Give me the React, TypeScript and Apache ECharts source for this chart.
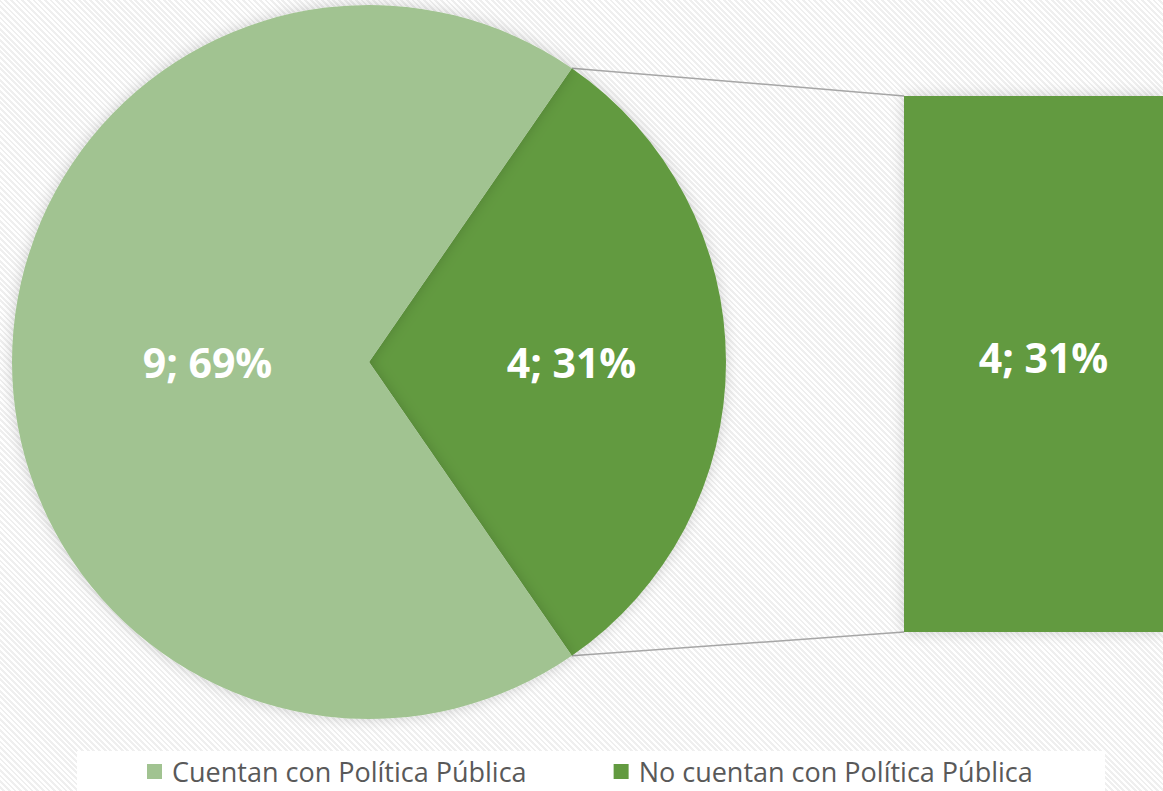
import React, { useEffect, useRef } from "react";
import * as echarts from "echarts";

const categories = ["Cuentan con Política Pública", "No cuentan con Política Pública"];
const values = [9, 4];
const colors = ["#A1C391", "#629A40"];
const barCategories = ["No cuentan con Política Pública"];
const barValues = [4];

export default function App() {
  const ref = useRef<HTMLDivElement>(null);
  useEffect(() => {
    document.body.style.margin = "0";
    const chart = echarts.init(ref.current!, null, { renderer: "svg" });
    const total = values.reduce((a, b) => a + b, 0);
    const cx = 369, cy = 362, r = 357;
    const half = (values[1] / total) * 180;
    const a = (half * Math.PI) / 180;
    const px = cx + r * Math.cos(a);
    const pyTop = cy - r * Math.sin(a);
    const pyBot = cy + r * Math.sin(a);
    const barLeft = 904, barTop = 96, barH = 536;
    const fmt = (p: any) => `${p.value}; ${Math.round((p.value / total) * 100)}%`;
    const labelStyle = {
      color: "#ffffff",
      fontSize: 41,
      fontWeight: "bold" as const,
      fontFamily: "Open Sans",
    };
    chart.setOption({
      animation: false,
      graphic: [
        {
          type: "rect",
          z: -1,
          shape: { x: 77, y: 751, width: 1028, height: 45 },
          style: { fill: "#ffffff" },
        },
        {
          type: "line",
          shape: { x1: px, y1: pyTop, x2: barLeft, y2: barTop },
          style: { stroke: "#a6a6a6", lineWidth: 1.5 },
        },
        {
          type: "line",
          shape: { x1: px, y1: pyBot, x2: barLeft, y2: barTop + barH },
          style: { stroke: "#a6a6a6", lineWidth: 1.5 },
        },
      ],
      legend: {
        data: categories,
        left: 147,
        top: 758,
        padding: 0,
        itemWidth: 15,
        itemHeight: 15,
        itemGap: 87,
        icon: "rect",
        textStyle: {
          color: "#595959",
          fontSize: 27,
          fontFamily: "Open Sans",
          padding: [0, 0, 0, 5],
        },
      },
      grid: { left: barLeft, top: barTop, width: 277, height: barH },
      xAxis: { type: "category", data: barCategories, show: false },
      yAxis: { type: "value", min: 0, max: 4, show: false },
      series: [
        {
          type: "pie",
          center: [cx, cy],
          radius: r,
          startAngle: half,
          clockwise: true,
          label: { show: true, position: "inside", formatter: fmt, ...labelStyle },
          labelLine: { show: false },
          itemStyle: { shadowBlur: 14, shadowColor: "rgba(0,0,0,0.18)" },
          emphasis: { disabled: true },
          data: [
            { name: categories[1], value: values[1], itemStyle: { color: colors[1] }, label: { offset: [21, 0] } },
            { name: categories[0], value: values[0], itemStyle: { color: colors[0] }, label: { offset: [20, 0] } },
          ],
        },
        {
          type: "bar",
          data: barValues,
          barWidth: "100%",
          itemStyle: { color: colors[1], shadowBlur: 14, shadowColor: "rgba(0,0,0,0.18)" },
          label: {
            show: true,
            position: "inside",
            formatter: fmt,
            ...labelStyle,
            offset: [10, -7],
          },
        },
      ],
    });
    return () => chart.dispose();
  }, []);
  return (
    <div
      ref={ref}
      style={{
        width: 1163,
        height: 791,
        background:
          "repeating-linear-gradient(45deg, #ffffff 0px, #ffffff 2px, #efefef 2px, #efefef 4px)",
      }}
    />
  );
}
